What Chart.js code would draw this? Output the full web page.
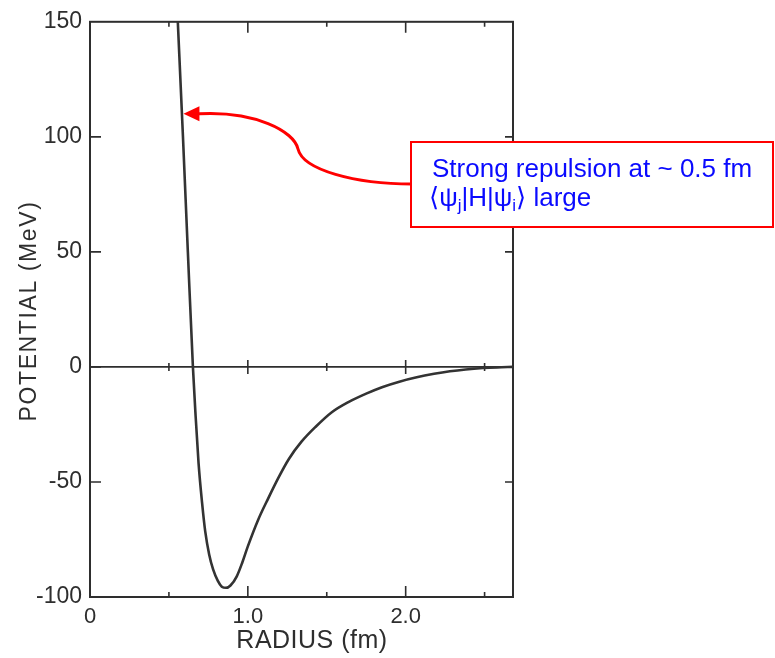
<!DOCTYPE html>
<html>
<head>
<meta charset="utf-8">
<script src="https://cdn.jsdelivr.net/npm/chart.js@4.4.1/dist/chart.umd.min.js"></script>
<style>
  html,body{margin:0;padding:0;background:#ffffff;}
  #wrap{width:775px;height:658px;position:relative;}
</style>
</head>
<body>
<div id="wrap"><canvas id="c" width="775" height="658"></canvas></div>
<script>
// ---- data ----
const radius = [0.555,0.589,0.620,0.652,0.668,0.688,0.710,0.730,0.755,0.780,0.810,0.835,0.862,0.890,0.930,0.965,1.000,1.065,1.130,1.195,1.260,1.340,1.430,1.530,1.640,1.750,1.850,1.960,2.070,2.180,2.280,2.380,2.490,2.580,2.680];
const potential = [152,100,50,0,-20,-42,-59,-71.5,-81.5,-88,-93,-95.5,-96,-95,-91,-85,-78,-66.5,-57,-48,-40,-32.5,-26,-19.8,-15.2,-11.6,-8.8,-6.4,-4.5,-3.0,-1.9,-1.1,-0.5,-0.2,0];
const xTickValues = [0,0.5,1.0,1.5,2.0,2.5];
const xTickLabels = ['0','','1.0','','2.0',''];
const yTickValues = [-100,-50,0,50,100,150];
const yTickLabels = ['-100','-50','0','50','100','150'];
const xTitle = 'RADIUS (fm)';
const yTitle = 'POTENTIAL (MeV)';
const noteLine1 = 'Strong repulsion at ~ 0.5 fm';
const arrowTarget = {r:0.592, v:110};

const INK = '#2e2e2e';

const framePlugin = {
  id:'frame',
  beforeDatasetsDraw(chart){
    const {ctx, chartArea:a, scales:{x,y}} = chart;
    ctx.save();
    ctx.strokeStyle = INK;
    ctx.lineWidth = 2;
    ctx.strokeRect(a.left, a.top, a.right-a.left, a.bottom-a.top);
    const y0 = y.getPixelForValue(0);
    ctx.lineWidth = 1.6;
    ctx.beginPath(); ctx.moveTo(a.left, y0); ctx.lineTo(a.right, y0); ctx.stroke();
    x.ticks.forEach(t=>{
      if (t.value <= x.min || t.value >= x.max) return;
      const px = x.getPixelForValue(t.value);
      const major = Math.abs(t.value - Math.round(t.value)) < 1e-6;
      const L = major ? 11 : 5;
      ctx.beginPath();
      ctx.moveTo(px, a.bottom); ctx.lineTo(px, a.bottom - L);
      ctx.moveTo(px, a.top); ctx.lineTo(px, a.top + L);
      const Z = major ? 7 : 4;
      ctx.moveTo(px, y0 - Z); ctx.lineTo(px, y0 + Z);
      ctx.stroke();
    });
    y.ticks.forEach(t=>{
      if (t.value <= y.min || t.value >= y.max) return;
      const py = y.getPixelForValue(t.value);
      ctx.beginPath();
      ctx.moveTo(a.left, py); ctx.lineTo(a.left + 11, py);
      ctx.moveTo(a.right, py); ctx.lineTo(a.right - 8, py);
      ctx.stroke();
    });
    ctx.restore();
  }
};

const titlesPlugin = {
  id:'titles',
  afterDraw(chart){
    const {ctx} = chart;
    ctx.save();
    ctx.fillStyle = INK;
    ctx.textAlign = 'center';
    ctx.textBaseline = 'alphabetic';
    ctx.save();
    ctx.translate(36, 311);
    ctx.rotate(-Math.PI/2);
    ctx.font = '23px "Liberation Sans", Arial, sans-serif';
    ctx.letterSpacing = '1.6px';
    ctx.fillText(yTitle, 0, 0);
    ctx.restore();
    ctx.font = '25px "Liberation Sans", Arial, sans-serif';
    ctx.letterSpacing = '0.5px';
    ctx.fillText(xTitle, 312, 648);
    ctx.restore();
  }
};

const notePlugin = {
  id:'note',
  afterDraw(chart){
    const {ctx, scales:{x,y}} = chart;
    const tx = x.getPixelForValue(arrowTarget.r);
    const ty = y.getPixelForValue(arrowTarget.v);
    ctx.save();
    ctx.strokeStyle = '#ff0000';
    ctx.fillStyle = '#ff0000';
    ctx.lineWidth = 3;
    ctx.lineCap = 'round';
    ctx.beginPath();
    ctx.moveTo(412, 184);
    ctx.bezierCurveTo(355, 184, 303, 170, 298, 149);
    ctx.bezierCurveTo(294, 131, 255, 111, tx + 16, ty);
    ctx.stroke();
    ctx.beginPath();
    ctx.moveTo(tx, ty);
    ctx.lineTo(tx + 16, ty - 7.5);
    ctx.lineTo(tx + 16, ty + 7.5);
    ctx.closePath();
    ctx.fill();
    ctx.fillStyle = '#ffffff';
    ctx.fillRect(411, 142, 362, 85);
    ctx.strokeStyle = '#ff0000';
    ctx.lineWidth = 2;
    ctx.strokeRect(411, 142, 362, 85);
    ctx.fillStyle = '#0a0aff';
    ctx.textAlign = 'left';
    ctx.textBaseline = 'alphabetic';
    const F = '"Liberation Sans", Arial, sans-serif';
    ctx.font = '26px ' + F;
    ctx.fillText(noteLine1, 432, 177);
    let cx = 429; const by = 206;
    const parts = [
      ['\u27E8', 26, 0, '"DejaVu Sans", ' + F],
      ['\u03C8', 26, 0, F],
      ['j', 17, 5, F],
      ['|H|', 26, 0, F],
      ['\u03C8', 26, 0, F],
      ['i', 17, 5, F],
      ['\u27E9', 26, 0, '"DejaVu Sans", ' + F],
      [' large', 26, 0, F]
    ];
    parts.forEach(([s, sz, dy, fam])=>{
      ctx.font = sz + 'px ' + fam;
      ctx.fillText(s, cx, by + dy);
      cx += ctx.measureText(s).width;
    });
    ctx.restore();
  }
};

const bgPlugin = {
  id:'bg',
  beforeDraw(chart){
    const {ctx, width, height} = chart;
    ctx.save(); ctx.fillStyle = '#ffffff'; ctx.fillRect(0,0,width,height); ctx.restore();
  }
};

new Chart(document.getElementById('c'), {
  type:'line',
  data:{
    datasets:[{
      data: radius.map((r,i)=>({x:r, y:potential[i]})),
      borderColor:'#333333',
      borderWidth:2.6,
      pointRadius:0,
      fill:false,
      cubicInterpolationMode:'monotone'
    }]
  },
  options:{
    responsive:false,
    animation:false,
    devicePixelRatio:1,
    layout:{padding:{top:17, right:262, bottom:0, left:0}},
    plugins:{legend:{display:false}, tooltip:{enabled:false}},
    scales:{
      x:{
        type:'linear', min:0, max:2.68,
        afterBuildTicks(s){ s.ticks = xTickValues.map(v=>({value:v})); },
        afterFit(s){ s.height = 61; },
        grid:{display:false, drawTicks:false},
        border:{display:false},
        ticks:{
          padding:7, maxRotation:0, autoSkip:false,
          color:INK,
          font:{family:'"Liberation Sans", Arial, sans-serif', size:22},
          callback:(v,i)=>xTickLabels[i]
        }
      },
      y:{
        type:'linear', min:-100, max:150,
        afterBuildTicks(s){ s.ticks = yTickValues.map(v=>({value:v})); },
        afterFit(s){ s.width = 90; },
        grid:{display:false, drawTicks:false},
        border:{display:false},
        ticks:{
          padding:8, autoSkip:false,
          color:INK,
          font:{family:'"Liberation Sans", Arial, sans-serif', size:23},
          callback:(v,i)=>yTickLabels[i]
        }
      }
    }
  },
  plugins:[bgPlugin, framePlugin, titlesPlugin, notePlugin]
});
</script>
</body>
</html>
